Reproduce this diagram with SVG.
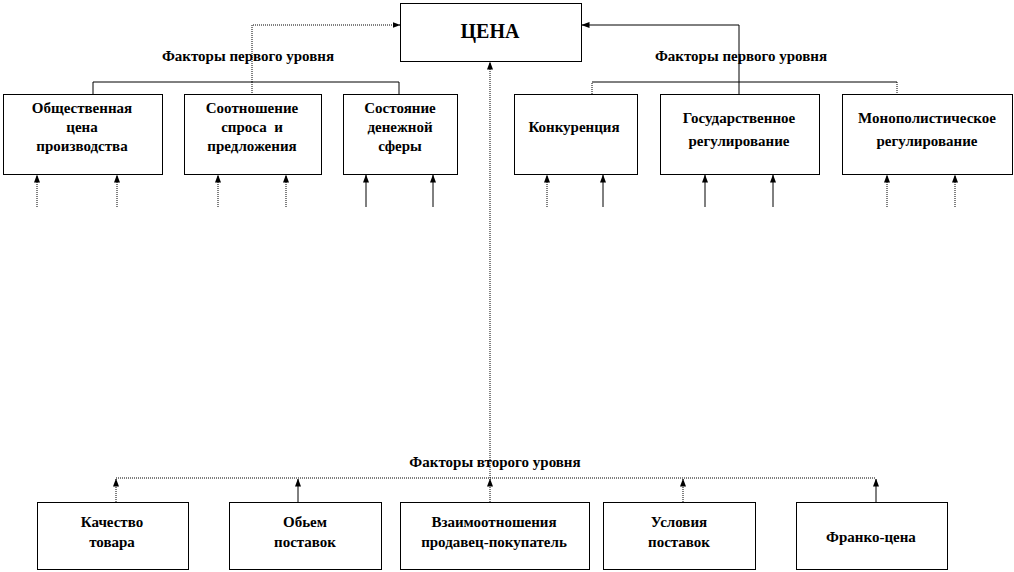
<svg xmlns="http://www.w3.org/2000/svg" width="1014" height="572" viewBox="0 0 1014 572">
<defs>
<marker id="ah" viewBox="0 0 8 8" refX="7.5" refY="4" markerWidth="8" markerHeight="8" markerUnits="userSpaceOnUse" orient="auto">
<path d="M0,1 L8,4 L0,7 Z" fill="#000"/>
</marker>
</defs>
<style>
.box{fill:#fff;stroke:#000;stroke-width:1}
.t{font-family:'Liberation Serif','DejaVu Serif','Times New Roman',serif;font-weight:bold;font-size:15px;fill:#000;text-anchor:middle}
.big{font-size:20px}
.ln{fill:none;stroke:#000;stroke-width:1}
.dt{stroke-dasharray:1,1}
.ar{marker-end:url(#ah)}
</style>
<rect width="1014" height="572" fill="#fff"/>
<g id="connectors">
<path class="ln dt ar" d="M252,82 V25 H400"/>
<path class="ln" d="M93,94 V82 H399 V94"/>
<path class="ln dt" d="M252,82 V94"/>
<path class="ln ar" d="M739,82 V25 H582"/>
<path class="ln dt" d="M592,94 V82"/>
<path class="ln" d="M592,82 H897"/>
<path class="ln dt" d="M897,82 V94"/>
<path class="ln" d="M739,82 V94"/>
<path class="ln dt ar" d="M490,478 V62"/>
<path class="ln dt" d="M116,478 H876"/>
<path class="ln dt ar" d="M116,502 V479"/>
<path class="ln ar" d="M298,502 V479"/>
<path class="ln dt ar" d="M490,502 V479"/>
<path class="ln dt ar" d="M683,502 V479"/>
<path class="ln ar" d="M876,502 V479"/>
<path class="ln dt ar" d="M37,207 V175"/>
<path class="ln dt ar" d="M117,207 V175"/>
<path class="ln dt ar" d="M218,207 V175"/>
<path class="ln dt ar" d="M286,207 V175"/>
<path class="ln ar" d="M366,207 V175"/>
<path class="ln ar" d="M433,207 V175"/>
<path class="ln dt ar" d="M547,207 V175"/>
<path class="ln ar" d="M603,207 V175"/>
<path class="ln ar" d="M705,207 V175"/>
<path class="ln ar" d="M773,207 V175"/>
<path class="ln dt ar" d="M887,207 V175"/>
<path class="ln dt ar" d="M955,207 V175"/>
</g>
<g id="labels">
<text class="t" x="248" y="61">Факторы первого уровня</text>
<text class="t" x="741" y="61">Факторы первого уровня</text>
<text class="t" x="495" y="467">Факторы второго уровня</text>
</g>
<g id="price">
<rect class="box" x="400.5" y="3.5" width="181" height="58"/>
<text class="t big" x="490" y="38">ЦЕНА</text>
</g>
<g id="n1">
<rect class="box" x="3.5" y="94.5" width="159" height="80"/>
<text class="t" x="82" y="113">Общественная</text>
<text class="t" x="82" y="132">цена</text>
<text class="t" x="82" y="151">производства</text>
</g>
<g id="n2">
<rect class="box" x="184.5" y="94.5" width="137" height="80"/>
<text class="t" x="252" y="113">Соотношение</text>
<text class="t" x="252" y="132" xml:space="preserve">спроса  и</text>
<text class="t" x="252" y="151">предложения</text>
</g>
<g id="n3">
<rect class="box" x="343.5" y="94.5" width="114" height="80"/>
<text class="t" x="400" y="113">Состояние</text>
<text class="t" x="400" y="132">денежной</text>
<text class="t" x="400" y="151">сферы</text>
</g>
<g id="n4">
<rect class="box" x="514.5" y="94.5" width="123" height="80"/>
<text class="t" x="574" y="132">Конкуренция</text>
</g>
<g id="n5">
<rect class="box" x="660.5" y="94.5" width="159" height="80"/>
<text class="t" x="739" y="123">Государственное</text>
<text class="t" x="739" y="146">регулирование</text>
</g>
<g id="n6">
<rect class="box" x="842.5" y="94.5" width="170" height="80"/>
<text class="t" x="927" y="123">Монополистическое</text>
<text class="t" x="927" y="146">регулирование</text>
</g>
<g id="b1">
<rect class="box" x="37.5" y="502.5" width="151" height="67"/>
<text class="t" x="112" y="527">Качество</text>
<text class="t" x="112" y="547">товара</text>
</g>
<g id="b2">
<rect class="box" x="229.5" y="502.5" width="152" height="67"/>
<text class="t" x="305" y="527">Обьем</text>
<text class="t" x="305" y="547">поставок</text>
</g>
<g id="b3">
<rect class="box" x="400.5" y="502.5" width="189" height="67"/>
<text class="t" x="494" y="527">Взаимоотношения</text>
<text class="t" x="494" y="547">продавец-покупатель</text>
</g>
<g id="b4">
<rect class="box" x="603.5" y="502.5" width="152" height="67"/>
<text class="t" x="679" y="527">Условия</text>
<text class="t" x="679" y="547">поставок</text>
</g>
<g id="b5">
<rect class="box" x="796.5" y="502.5" width="151" height="67"/>
<text class="t" x="871" y="542">Франко-цена</text>
</g>
</svg>
